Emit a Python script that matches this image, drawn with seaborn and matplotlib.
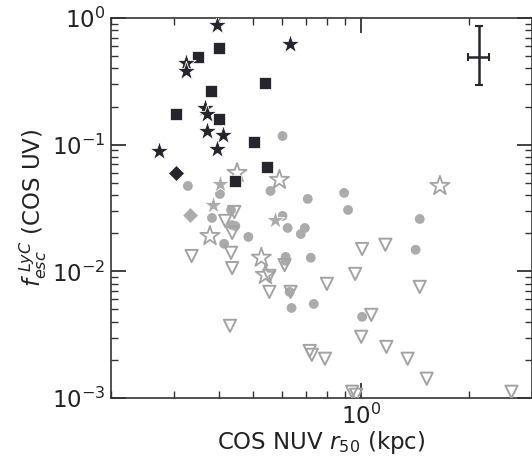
import numpy as np
import pandas as pd
import matplotlib
matplotlib.use("Agg")
import matplotlib.pyplot as plt
import seaborn as sns
from matplotlib.ticker import NullFormatter, LogLocator

# ---------------- data ----------------
dark_star_x = [0.396, 0.631, 0.324, 0.324, 0.366, 0.371, 0.371, 0.411, 0.396, 0.273]
dark_star_y = [0.881, 0.624, 0.441, 0.382, 0.195, 0.175, 0.128, 0.119, 0.0925, 0.0892]

dark_square_x = [0.401, 0.350, 0.540, 0.380, 0.303, 0.401, 0.503, 0.544, 0.445]
dark_square_y = [0.580, 0.492, 0.307, 0.265, 0.175, 0.160, 0.105, 0.0667, 0.0517]

dark_diamond_x = [0.303]
dark_diamond_y = [0.0598]

gray_diamond_x = [0.332]
gray_diamond_y = [0.0279]

gray_star_x = [0.403, 0.385, 0.576]
gray_star_y = [0.0489, 0.0334, 0.0254]

open_star_x = [0.450, 0.591, 0.378, 0.526, 0.540, 1.659]
open_star_y = [0.0598, 0.0527, 0.0190, 0.0128, 0.00937, 0.0472]

gray_circle_x = [0.603, 0.328, 0.403, 0.558, 0.433, 0.383, 0.436, 0.445, 0.484,
                 0.414, 0.603, 0.623, 0.709, 0.696, 0.678, 0.615, 0.615, 0.723,
                 0.631, 0.639, 0.737, 0.896, 0.919, 1.457, 1.419, 1.006]
gray_circle_y = [0.117, 0.0472, 0.0408, 0.0431, 0.0305, 0.0264, 0.0232, 0.0228, 0.0187,
                 0.0165, 0.0274, 0.0220, 0.0373, 0.0220, 0.0197, 0.0130, 0.0121, 0.0128,
                 0.00688, 0.00514, 0.00553, 0.0416, 0.0305, 0.0259, 0.0148, 0.00437]

limit_x = [0.442, 0.417, 0.436, 0.336, 0.433, 0.436, 0.554, 0.554, 0.430, 0.611,
           0.635, 0.802, 0.718, 0.728, 0.792, 1.000, 1.067, 0.943, 0.968, 1.006,
           1.168, 0.962, 1.457, 1.176, 1.348, 1.524, 2.629]
limit_y = [0.0294, 0.0250, 0.0201, 0.0132, 0.0140, 0.0106, 0.00920, 0.00688, 0.00371, 0.0112,
           0.00688, 0.00796, 0.00235, 0.00219, 0.00204, 0.00304, 0.00453, 0.00112, 0.00106, 0.0150,
           0.0162, 0.00954, 0.00753, 0.00253, 0.00204, 0.00142, 0.00112]

# typical error bar (upper right)
err_x = [2.14]
err_y = [0.49]
err_x_lo, err_x_hi = [0.15], [0.14]
err_y_lo, err_y_hi = [0.194], [0.375]

x_label = "COS NUV $r_{50}$ (kpc)"
y_label = "$f_{esc}^{\\ LyC}$ (COS UV)"

# ---------------- style ----------------
sns.set_theme(style="ticks")
plt.rcParams['font.family'] = ['DejaVu Sans']
plt.rcParams['mathtext.fontset'] = 'dejavusans'

DARK = "#25252e"
GRAY = "#ababab"
EDGE_GRAY = "#a3a3a3"
AXC = "#333333"

fig = plt.figure(figsize=(5.32, 4.59), dpi=100)
ax = fig.add_axes([0.2086, 0.1329, 0.7914, 0.8279])
ax.set_xscale('log')
ax.set_yscale('log')

# gray circles
sns.scatterplot(x=gray_circle_x, y=gray_circle_y, ax=ax, marker='o', s=50,
                color=GRAY, edgecolor='none', linewidth=0, zorder=2)
# upper limits (open down triangles)
sns.scatterplot(x=limit_x, y=limit_y, ax=ax, marker='v', s=78,
                facecolor='none', edgecolor=EDGE_GRAY, linewidth=1.4, zorder=3)
# open stars
sns.scatterplot(x=open_star_x, y=open_star_y, ax=ax, marker='*', s=210,
                facecolor='none', edgecolor=EDGE_GRAY, linewidth=1.3, zorder=3)
# gray filled stars and diamond
sns.scatterplot(x=gray_star_x, y=gray_star_y, ax=ax, marker='*', s=190,
                color=GRAY, edgecolor='white', linewidth=0.6, zorder=4)
sns.scatterplot(x=gray_diamond_x, y=gray_diamond_y, ax=ax, marker='D', s=64,
                color=GRAY, edgecolor='white', linewidth=0.5, zorder=4)
# dark symbols
sns.scatterplot(x=dark_square_x, y=dark_square_y, ax=ax, marker='s', s=66,
                color=DARK, edgecolor='white', linewidth=0.5, zorder=5)
sns.scatterplot(x=dark_diamond_x, y=dark_diamond_y, ax=ax, marker='D', s=66,
                color=DARK, edgecolor='white', linewidth=0.5, zorder=5)
sns.scatterplot(x=dark_star_x, y=dark_star_y, ax=ax, marker='*', s=210,
                color=DARK, edgecolor='white', linewidth=0.6, zorder=6)

ax.errorbar(err_x, err_y, xerr=[err_x_lo, err_x_hi], yerr=[err_y_lo, err_y_hi],
            fmt='none', ecolor=DARK, elinewidth=1.8, capsize=3, capthick=1.5, zorder=6)

ax.set_xlim(0.2, 3.0)
ax.set_ylim(1e-3, 1.0)

ax.xaxis.set_minor_formatter(NullFormatter())
ax.yaxis.set_minor_formatter(NullFormatter())
ax.yaxis.set_minor_locator(LogLocator(base=10, subs=np.arange(2, 10)))

for sp in ax.spines.values():
    sp.set_visible(True)
    sp.set_color(AXC)
    sp.set_linewidth(1.2)

ax.tick_params(which='both', direction='in', top=True, right=True, colors=AXC,
               labelcolor='#222222')
ax.tick_params(which='major', length=11, width=1.3, labelsize=16.5, pad=4)
ax.tick_params(which='minor', length=5, width=1.0)

ax.set_xlabel(x_label, fontsize=16.5, color='#222222', labelpad=0)
ax.set_ylabel(y_label, fontsize=16.5, color='#222222', labelpad=2)

fig.savefig("out.png", dpi=100)
